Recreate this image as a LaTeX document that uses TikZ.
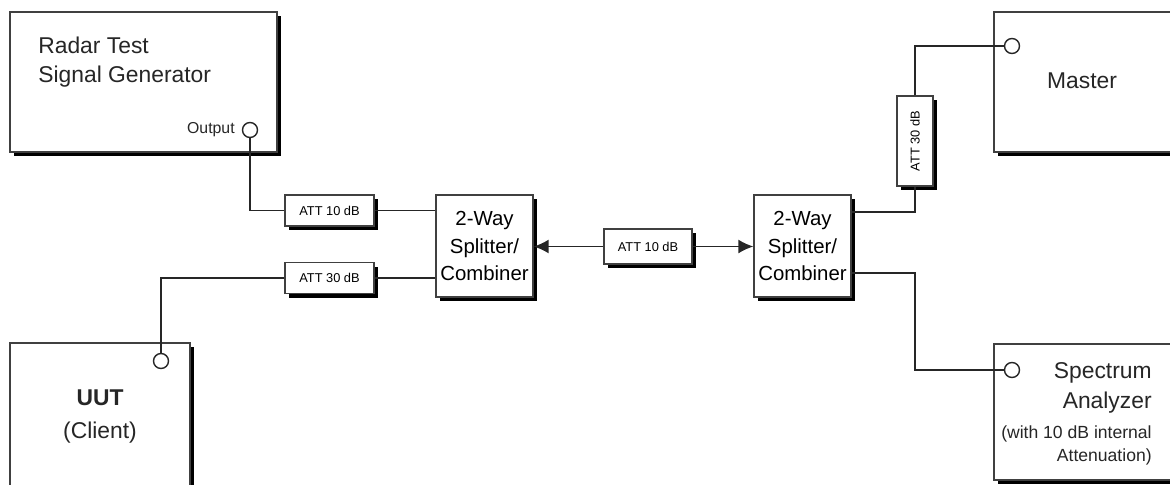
\documentclass[tikz,border=0pt]{standalone}
\usepackage{fontspec}
\setmainfont{Liberation Sans}
\usetikzlibrary{shadows,arrows.meta,calc}
\begin{document}
\begin{tikzpicture}[x=0.02cm,y=-0.02cm,
  sh/.style={drop shadow={shadow xshift=0.08cm,shadow yshift=-0.08cm,fill=black,opacity=1}},
  box/.style={draw=black!75, line width=0.8pt, fill=white, sh, inner sep=0pt},
  att/.style={box, font=\fontsize{7.3}{8}\selectfont},
  port/.style={circle, draw=black!85, line width=0.8pt, fill=white, minimum size=0.3cm, inner sep=0pt},
  wire/.style={draw=black!85, line width=0.85pt},
  big/.style={font=\fontsize{13}{16.5}\selectfont},
  split/.style={box, minimum width=1.94cm, minimum height=2.04cm, align=center, font=\fontsize{11.6}{15.4}\selectfont},
  txt/.style={inner sep=0pt, text=black!85},
  tip/.style={-{Latex[length=0.3cm,width=0.28cm]}}
]
\useasboundingbox (0,0) rectangle (1170,484);

% big boxes
\node[box, minimum width=5.34cm, minimum height=2.8cm] (radar) at (143.5,82) {};
\node[txt, big, anchor=base west] (radartxt1) at (38,53) {Radar Test};
\node[txt, big, anchor=base west] (radartxt2) at (38,82) {Signal Generator};
\node[txt, anchor=base east, font=\fontsize{9}{10}\selectfont] (outlbl) at (235,133) {Output};
\node[port] (outp) at (250,130) {};

\node[box, minimum width=3.6cm, minimum height=2.86cm] (uut) at (100,414.5) {};
\node[txt, anchor=base, font=\bfseries\fontsize{13}{15}\selectfont] (uuttxt) at (100,405) {UUT};
\node[txt, anchor=base, big] (clienttxt) at (100,438) {(Client)};
\node[port] (uutp) at (161,361) {};

\node[box, minimum width=3.72cm, minimum height=2.8cm] (master) at (1087,82) {};
\node[txt, big] (mastertxt) at (1082,81) {Master};
\node[port] (masterp) at (1012,46) {};

\node[box, minimum width=3.72cm, minimum height=2.72cm] (spec) at (1087,412) {};
\node[txt, big, anchor=base east] (spec1) at (1152,378) {Spectrum};
\node[txt, big, anchor=base east] (spec2) at (1152,408) {Analyzer};
\node[txt, anchor=base east, font=\fontsize{10}{12}\selectfont] (spec3) at (1152,438) {(with 10 dB internal};
\node[txt, anchor=base east, font=\fontsize{10}{12}\selectfont] (spec4) at (1152,461) {Attenuation)};
\node[port] (specp) at (1012,370) {};

% attenuators
\node[att, minimum width=1.78cm, minimum height=0.62cm] (att1) at (329.5,210.5) {ATT 10 dB};
\node[att, minimum width=1.78cm, minimum height=0.62cm] (att2) at (329.5,278) {ATT 30 dB};
\node[att, minimum width=1.76cm, minimum height=0.70cm] (attm) at (648,246.5) {ATT 10 dB};
\node[att, minimum width=0.72cm, minimum height=1.8cm] (att3) at (915,141) {\rotatebox{90}{ATT 30 dB}};

% splitters
\node[split] (sp1) at (484.5,246) {2-Way\\Splitter/\\Combiner};
\node[split] (sp2) at (802.5,246) {2-Way\\Splitter/\\Combiner};

% wires
\draw[wire] (outp.south) |- (att1.west);
\draw[wire] (att1.east) -- (att1.east -| sp1.west);
\draw[wire] (att2.east) -- (att2.east -| sp1.west);
\draw[wire] (att2.west) -| (uutp.north);
\draw[wire, tip] (attm.west) -- (attm.west -| sp1.east);
\draw[wire, tip] (attm.east) -- (attm.east -| sp2.west);
\draw[wire] ($(sp2.east)+(0,-34)$) -| (att3.south);
\draw[wire] (att3.north) |- (masterp.west);
\draw[wire] ($(sp2.east)+(0,27)$) -| (att3.south |- specp.west) -- (specp.west);
\end{tikzpicture}
\end{document}
